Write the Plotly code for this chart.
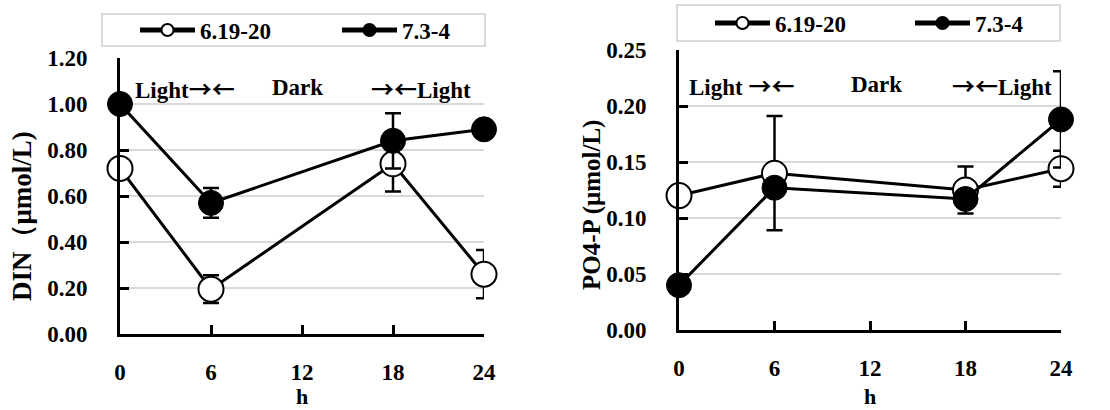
import plotly.graph_objects as go

hours = [0, 6, 18, 24]
x_ticks = [0, 6, 12, 18, 24]

din_open = [0.72, 0.195, 0.74, 0.26]
din_open_err = [0.0, 0.06, 0.12, 0.105]
din_filled = [1.00, 0.57, 0.84, 0.89]
din_filled_err = [0.0, 0.065, 0.12, 0.0]

po4_open = [0.120, 0.140, 0.125, 0.144]
po4_open_err = [0.0, 0.051, 0.021, 0.016]
po4_filled = [0.040, 0.127, 0.117, 0.188]
po4_filled_err = [0.0, 0.004, 0.004, 0.043]

series_names = ["6.19-20", "7.3-4"]
din_ticks = [0.0, 0.2, 0.4, 0.6, 0.8, 1.0, 1.2]
po4_ticks = [0.0, 0.05, 0.10, 0.15, 0.20, 0.25]

W, H = 1110, 410
FONT = "Liberation Serif"
FS = 23


def px_x(p):
    return p / W


def px_y(p):
    return 1 - p / H


fig = go.Figure()


def add_pair(xa, ya, yo, eo, yf, ef, leg_o, leg_f):
    fig.add_trace(go.Scatter(
        x=hours, y=yo, name="<b>%s</b>" % series_names[0], mode="lines+markers",
        xaxis=xa, yaxis=ya, legend=leg_o, cliponaxis=False,
        line=dict(color="black", width=3),
        marker=dict(symbol="circle", size=25, color="white",
                    line=dict(color="black", width=2)),
        error_y=dict(type="data", array=eo, color="black", thickness=2.5, width=8),
    ))
    fig.add_trace(go.Scatter(
        x=hours, y=yf, name="<b>%s</b>" % series_names[1], mode="lines+markers",
        xaxis=xa, yaxis=ya, legend=leg_f, cliponaxis=False,
        line=dict(color="black", width=3),
        marker=dict(symbol="circle", size=25, color="black",
                    line=dict(color="black", width=1)),
        error_y=dict(type="data", array=ef, color="black", thickness=2.5, width=8),
    ))


add_pair("x", "y", din_open, din_open_err, din_filled, din_filled_err, "legend", "legend2")
add_pair("x2", "y2", po4_open, po4_open_err, po4_filled, po4_filled_err, "legend3", "legend4")

tickfont = dict(family=FONT, size=FS, color="black")


def xaxis_cfg(d0, d1, anchor):
    return dict(domain=[px_x(d0), px_x(d1)], range=[0, 24], anchor=anchor,
                tickmode="array", tickvals=x_ticks,
                ticktext=["<b>%d</b>" % v for v in x_ticks],
                ticks="inside", ticklen=9, tickwidth=3, tickcolor="black",
                showline=True, linecolor="black", linewidth=3, showgrid=False,
                zeroline=False, tickfont=tickfont, ticklabelstandoff=15, fixedrange=True)


def yaxis_cfg(bottom, top, rng, tv, anchor):
    return dict(domain=[px_y(bottom), px_y(top)], range=rng, anchor=anchor,
                tickmode="array", tickvals=tv,
                ticktext=["<b>%.2f</b>" % v for v in tv],
                ticks="inside", ticklen=9, tickwidth=3, tickcolor="black",
                showline=True, linecolor="black", linewidth=3,
                showgrid=True, gridcolor="#d9d9d9", gridwidth=1.5,
                zeroline=False, tickfont=tickfont, ticklabelstandoff=25, fixedrange=True)


def leg(xpx, ypx):
    return dict(orientation="h", x=px_x(xpx), y=px_y(ypx), xanchor="left", yanchor="middle",
                bgcolor="rgba(0,0,0,0)", borderwidth=0, itemwidth=55,
                itemsizing="constant",
                font=dict(family=FONT, size=FS, color="black"))


fig.update_layout(
    width=W, height=H, margin=dict(l=0, r=0, t=0, b=0, autoexpand=False),
    paper_bgcolor="white", plot_bgcolor="white",
    font=dict(family=FONT, color="black"),
    xaxis=xaxis_cfg(120, 484, "y"),
    yaxis=yaxis_cfg(334, 58, [0, 1.2], din_ticks, "x"),
    xaxis2=xaxis_cfg(679, 1061, "y2"),
    yaxis2=yaxis_cfg(330, 50, [0, 0.25], po4_ticks, "x2"),
    legend=leg(135, 30),
    legend2=leg(337, 30),
    legend3=leg(710, 23),
    legend4=leg(910, 23),
    showlegend=True,
)

# legend frames
fig.add_shape(type="rect", xref="paper", yref="paper",
              x0=px_x(102), x1=px_x(485), y0=px_y(46), y1=px_y(14),
              line=dict(color="#cfcfcf", width=1.5), fillcolor="rgba(0,0,0,0)")
fig.add_shape(type="rect", xref="paper", yref="paper",
              x0=px_x(677), x1=px_x(1060), y0=px_y(41), y1=px_y(5),
              line=dict(color="#cfcfcf", width=1.5), fillcolor="rgba(0,0,0,0)")

labfont = dict(family=FONT, size=FS, color="black")
ARW = "<span style=\"font-family:'Noto Sans CJK SC'\">%s</span>"
annots = [
    ("Light" + ARW % "→←", 185, 88), ("Dark", 297, 88), (ARW % "→←" + "Light", 421, 88),
    ("Light " + ARW % "→←", 742, 85), ("Dark", 876, 85), (ARW % "→←" + "Light", 1002, 85),
]
for txt, xx, yy in annots:
    fig.add_annotation(text="<b>%s</b>" % txt, xref="paper", yref="paper",
                       x=px_x(xx), y=px_y(yy), showarrow=False,
                       xanchor="center", yanchor="middle", font=labfont)

# axis titles
hfont = dict(family=FONT, size=22, color="black")
fig.add_annotation(text="<b>h</b>", xref="paper", yref="paper", x=px_x(302), y=0,
                   showarrow=False, xanchor="center", yanchor="bottom", font=hfont,
                   borderpad=0)
fig.add_annotation(text="<b>h</b>", xref="paper", yref="paper", x=px_x(870), y=0,
                   showarrow=False, xanchor="center", yanchor="bottom", font=hfont,
                   borderpad=0)
fig.add_annotation(text="<b>DIN（μmol/L)</b>", xref="paper", yref="paper",
                   x=px_x(22), y=px_y(216), showarrow=False, textangle=-90,
                   xanchor="center", yanchor="middle",
                   font=dict(family=FONT, size=27, color="black"))
fig.add_annotation(text="<b>PO4-P (μmol/L)</b>", xref="paper", yref="paper",
                   x=px_x(592), y=px_y(205), showarrow=False, textangle=-90,
                   xanchor="center", yanchor="middle",
                   font=dict(family=FONT, size=25, color="black"))

fig.write_html("out.html")
